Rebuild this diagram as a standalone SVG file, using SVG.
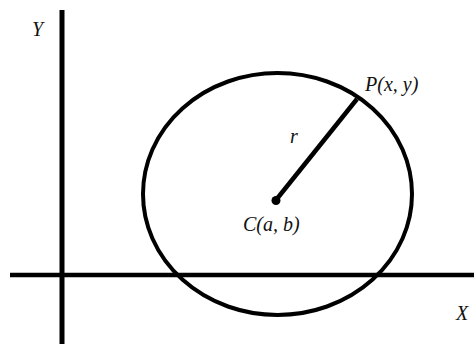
<svg xmlns="http://www.w3.org/2000/svg" width="474" height="344" viewBox="0 0 474 344">
<style>
.lbl{font-family:"Liberation Serif","Times New Roman",serif;font-style:italic;font-size:20px;fill:#111}
.ln{stroke:#000;fill:none}
</style>
<rect width="474" height="344" fill="#fff"/>
<g id="axes">
<line class="ln" x1="62" y1="10" x2="62" y2="344" stroke-width="5"/>
<line class="ln" x1="10" y1="275" x2="474" y2="275" stroke-width="4.5"/>
<text class="lbl" x="32" y="36">Y</text>
<text class="lbl" x="456" y="320">X</text>
</g>
<g id="circle">
<ellipse class="ln" cx="277.5" cy="194" rx="134.5" ry="121" stroke-width="4"/>
</g>
<g id="connectors">
<line class="ln" x1="276" y1="200" x2="357" y2="99" stroke-width="4.5"/>
</g>
<g id="center">
<circle cx="276" cy="200.5" r="4.5" fill="#000"/>
<text class="lbl" x="243" y="231">C(a, b)</text>
</g>
<g id="point">
<text class="lbl" x="365" y="91">P(x, y)</text>
</g>
<g id="radius-label">
<text class="lbl" x="290" y="143">r</text>
</g>
</svg>
